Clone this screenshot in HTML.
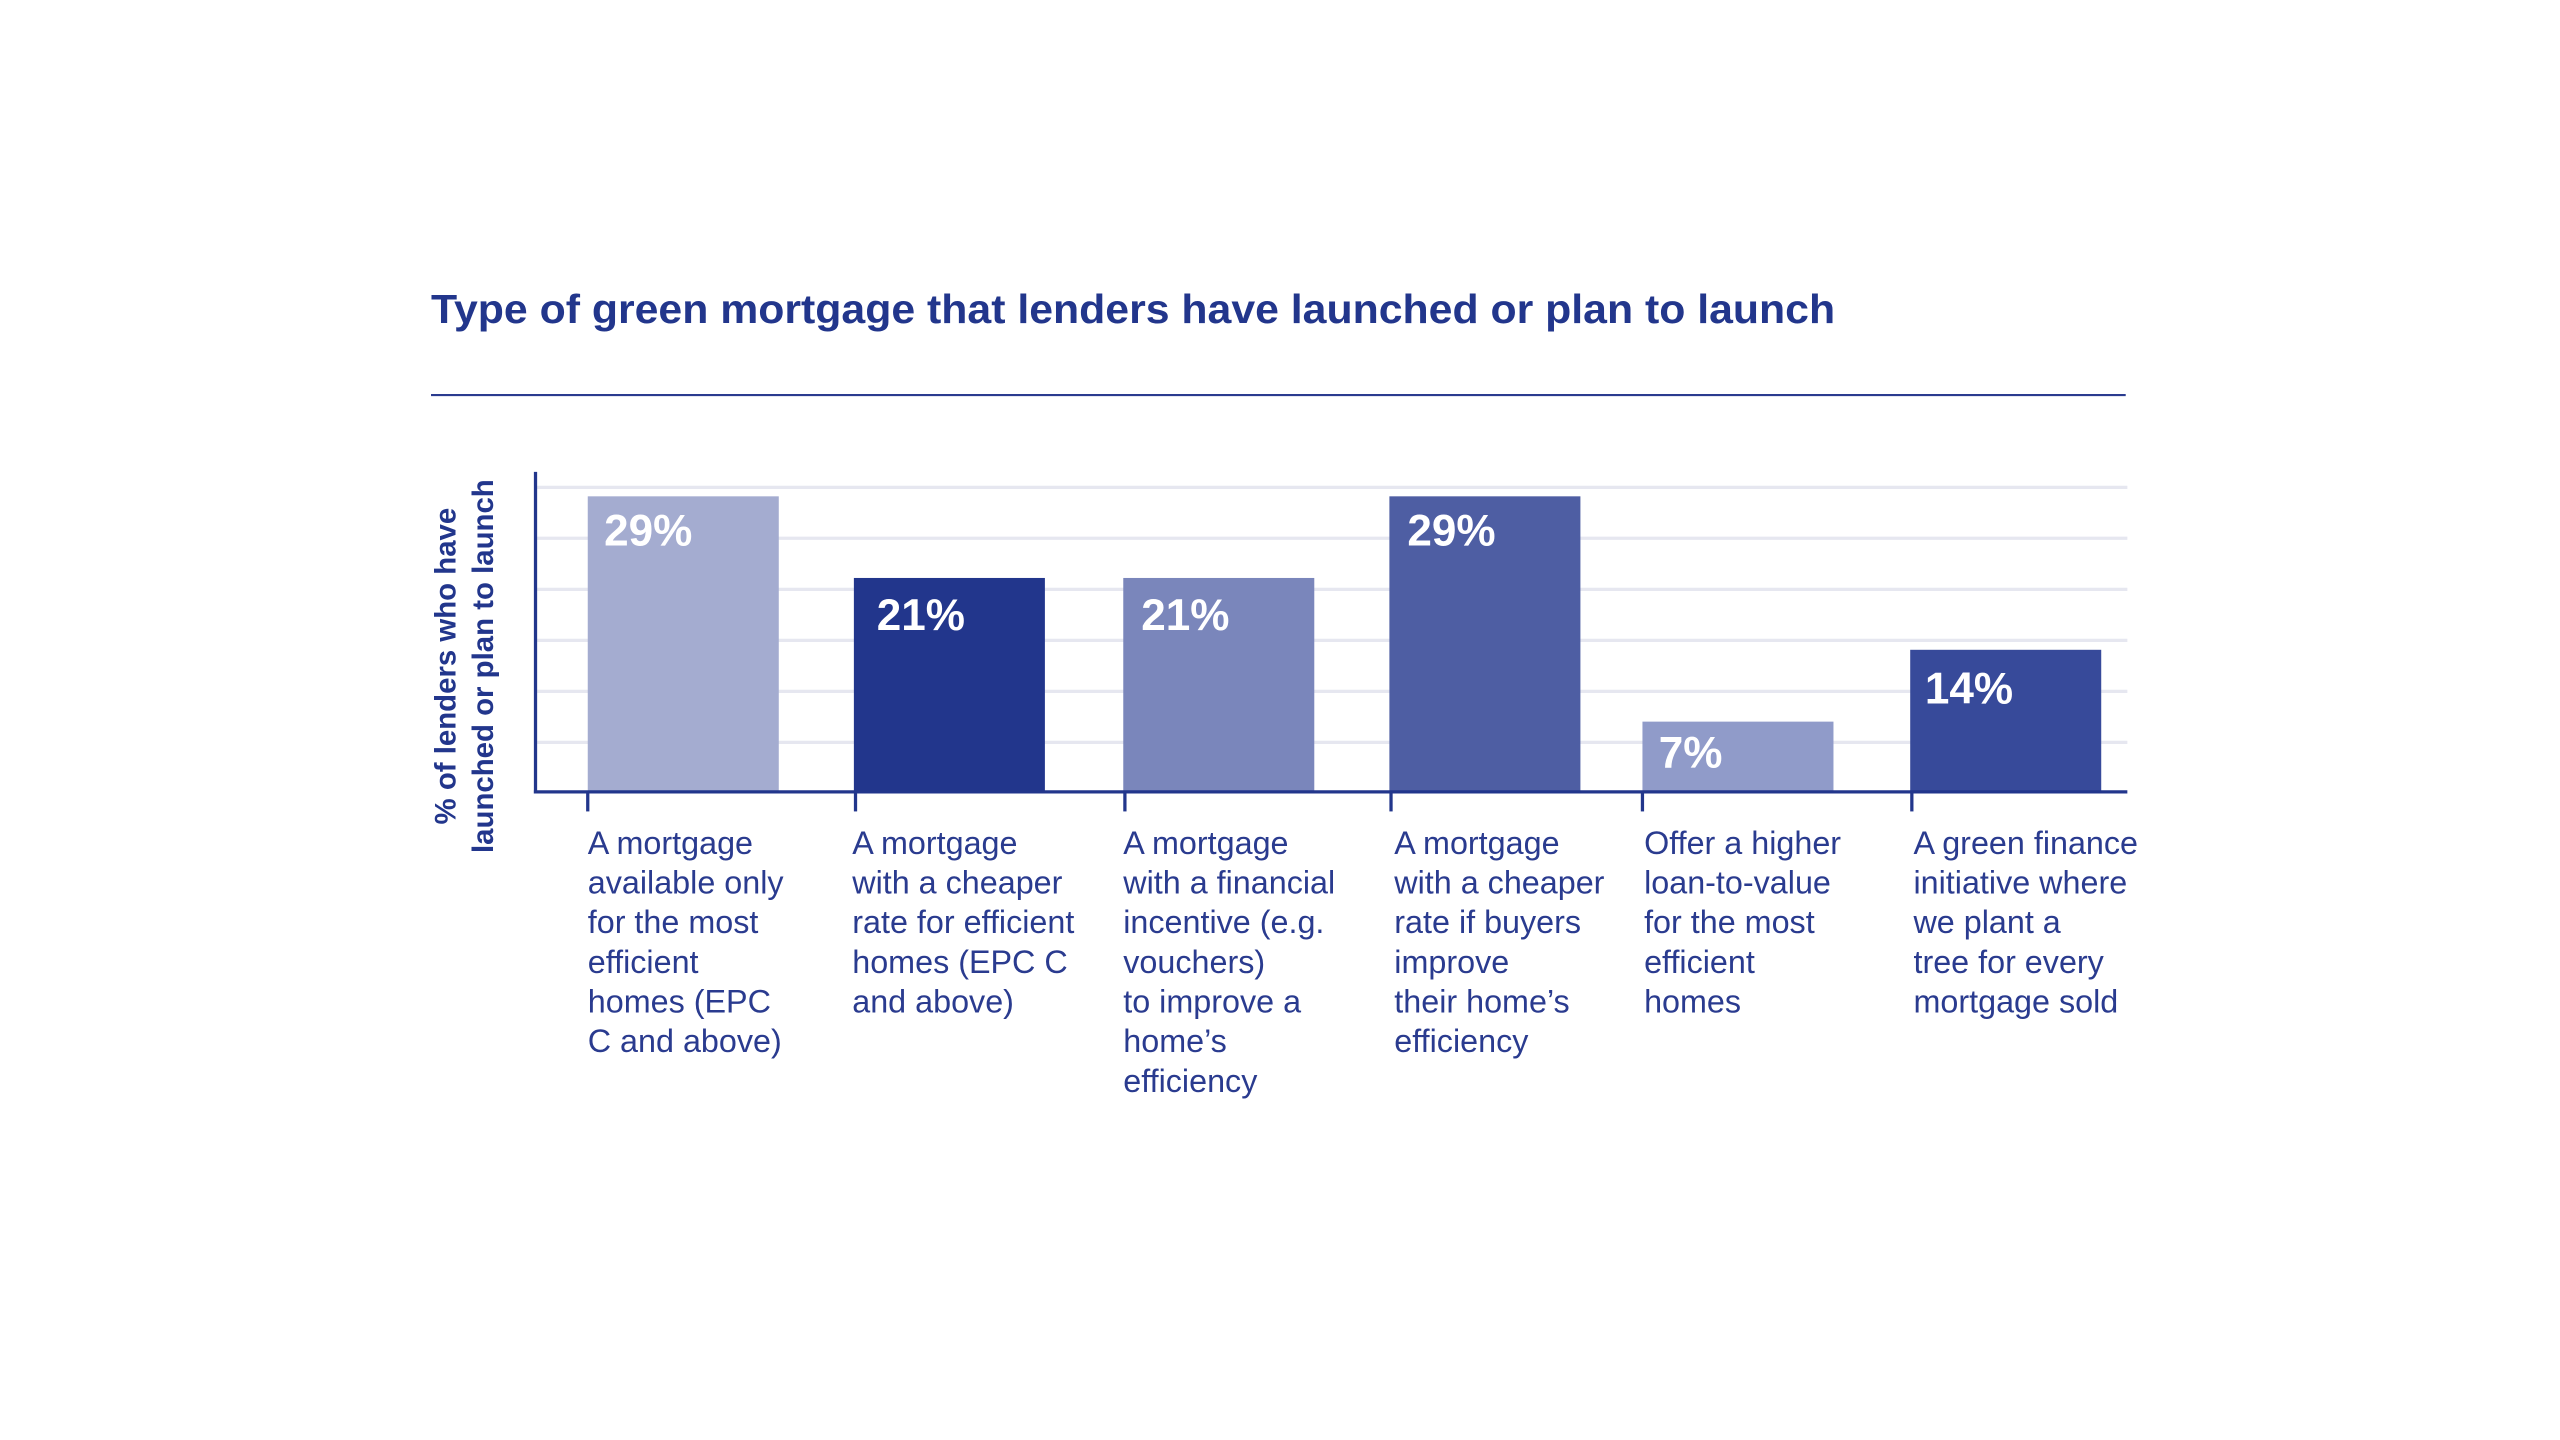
<!DOCTYPE html>
<html><head><meta charset="utf-8"><style>html,body{margin:0;padding:0;background:#fff}svg{display:block}</style></head>
<body>
<svg width="2560" height="1440" viewBox="0 0 1568 882" xmlns="http://www.w3.org/2000/svg" font-family="Liberation Sans, sans-serif">
<rect width="1568" height="882" fill="#fff"/>
<text x="264" y="198" font-size="25" font-weight="bold" fill="#22368c" textLength="860" lengthAdjust="spacingAndGlyphs">Type of green mortgage that lenders have launched or plan to launch</text>
<line x1="264" y1="242" x2="1302" y2="242" stroke="#2a3b8f" stroke-width="1.3"/>
<g stroke="#e6e7f0" stroke-width="2">
<line x1="328" y1="298.5" x2="1303" y2="298.5"/>
<line x1="328" y1="329.7" x2="1303" y2="329.7"/>
<line x1="328" y1="361" x2="1303" y2="361"/>
<line x1="328" y1="392.2" x2="1303" y2="392.2"/>
<line x1="328" y1="423.5" x2="1303" y2="423.5"/>
<line x1="328" y1="454.7" x2="1303" y2="454.7"/>
</g>
<rect x="360" y="304" width="117" height="181" fill="#a4acd0"/>
<rect x="523" y="354" width="117" height="131" fill="#22368c"/>
<rect x="688" y="354" width="117" height="131" fill="#7a86bb"/>
<rect x="851" y="304" width="117" height="181" fill="#4e5ea3"/>
<rect x="1006" y="442" width="117" height="43" fill="#909bc9"/>
<rect x="1170" y="398" width="117" height="87" fill="#374a9a"/>
<g stroke="#22368c" stroke-width="2">
<line x1="328" y1="289" x2="328" y2="486"/>
<line x1="327" y1="485" x2="1303" y2="485"/>
<line x1="360" y1="485" x2="360" y2="497"/>
<line x1="524" y1="485" x2="524" y2="497"/>
<line x1="689" y1="485" x2="689" y2="497"/>
<line x1="852" y1="485" x2="852" y2="497"/>
<line x1="1006" y1="485" x2="1006" y2="497"/>
<line x1="1171" y1="485" x2="1171" y2="497"/>
</g>
<g fill="#fff" font-size="27" font-weight="bold">
<text x="370" y="334">29%</text>
<text x="537" y="386">21%</text>
<text x="699" y="386">21%</text>
<text x="862" y="334">29%</text>
<text x="1016" y="470">7%</text>
<text x="1179" y="431">14%</text>
</g>
<g fill="#22368c" font-size="18" font-weight="bold">
<text transform="translate(279,408) rotate(-90)" text-anchor="middle">% of lenders who have</text>
<text transform="translate(302,408) rotate(-90)" text-anchor="middle">launched or plan to launch</text>
</g>
<g fill="#2a3b8f" font-size="19.8">
<text x="360" y="523"><tspan x="360">A mortgage</tspan><tspan x="360" dy="24.3">available only</tspan><tspan x="360" dy="24.3">for the most</tspan><tspan x="360" dy="24.3">efficient</tspan><tspan x="360" dy="24.3">homes (EPC</tspan><tspan x="360" dy="24.3">C and above)</tspan></text>
<text x="522" y="523"><tspan x="522">A mortgage</tspan><tspan x="522" dy="24.3">with a cheaper</tspan><tspan x="522" dy="24.3">rate for efficient</tspan><tspan x="522" dy="24.3">homes (EPC C</tspan><tspan x="522" dy="24.3">and above)</tspan></text>
<text x="688" y="523"><tspan x="688">A mortgage</tspan><tspan x="688" dy="24.3">with a financial</tspan><tspan x="688" dy="24.3">incentive (e.g.</tspan><tspan x="688" dy="24.3">vouchers)</tspan><tspan x="688" dy="24.3">to improve a</tspan><tspan x="688" dy="24.3">home’s</tspan><tspan x="688" dy="24.3">efficiency</tspan></text>
<text x="854" y="523"><tspan x="854">A mortgage</tspan><tspan x="854" dy="24.3">with a cheaper</tspan><tspan x="854" dy="24.3">rate if buyers</tspan><tspan x="854" dy="24.3">improve</tspan><tspan x="854" dy="24.3">their home’s</tspan><tspan x="854" dy="24.3">efficiency</tspan></text>
<text x="1007" y="523"><tspan x="1007">Offer a higher</tspan><tspan x="1007" dy="24.3">loan-to-value</tspan><tspan x="1007" dy="24.3">for the most</tspan><tspan x="1007" dy="24.3">efficient</tspan><tspan x="1007" dy="24.3">homes</tspan></text>
<text x="1172" y="523"><tspan x="1172">A green finance</tspan><tspan x="1172" dy="24.3">initiative where</tspan><tspan x="1172" dy="24.3">we plant a</tspan><tspan x="1172" dy="24.3">tree for every</tspan><tspan x="1172" dy="24.3">mortgage sold</tspan></text>
</g>
</svg>
</body></html>
